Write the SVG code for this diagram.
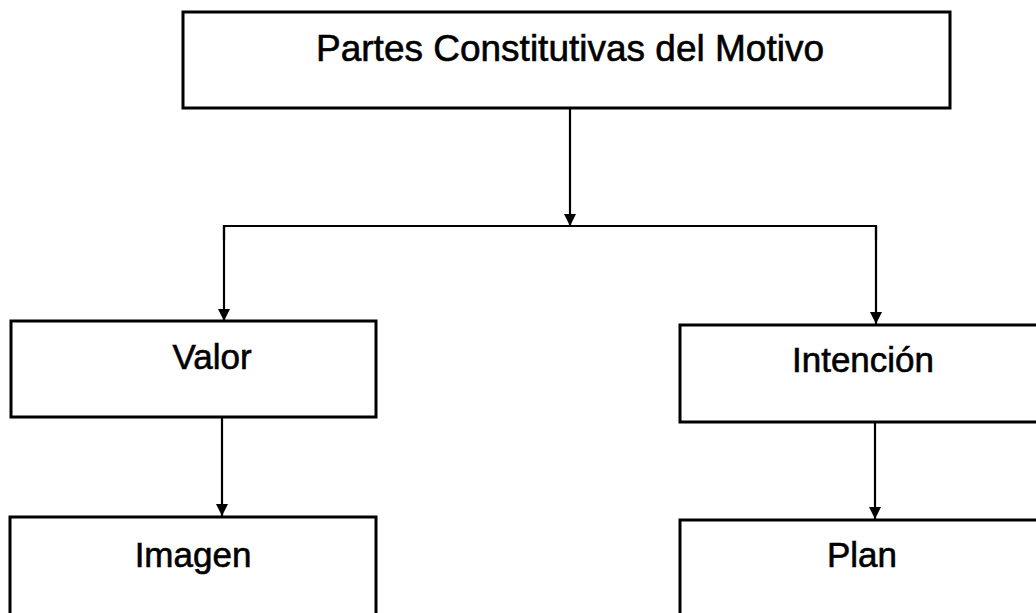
<svg xmlns="http://www.w3.org/2000/svg" width="1036" height="613" viewBox="0 0 1036 613">
<style>
.box{fill:#fff;stroke:#000;stroke-width:3}
.lbl{font-family:"Liberation Sans",Arial,sans-serif;font-size:35px;fill:#000;stroke:#000;stroke-width:0.6;text-anchor:middle}
.ln{fill:none;stroke:#000;stroke-width:2.2}
</style>
<defs>
<marker id="ah" viewBox="0 0 10 10" refX="10" refY="5" markerWidth="16" markerHeight="12" markerUnits="userSpaceOnUse" orient="auto">
<path d="M0,0 L10,5 L0,10 z" fill="#000"/>
</marker>
</defs>
<rect width="1036" height="613" fill="#fff"/>
<g id="connectors">
<line class="ln" x1="570" y1="108" x2="570" y2="226" marker-end="url(#ah)"/>
<polyline class="ln" points="224,240 224,226 876,226 876,240" />
<line class="ln" x1="224" y1="226" x2="224" y2="321" marker-end="url(#ah)"/>
<line class="ln" x1="876" y1="226" x2="876" y2="324" marker-end="url(#ah)"/>
<line class="ln" x1="222" y1="417" x2="222" y2="516" marker-end="url(#ah)"/>
<line class="ln" x1="875" y1="422" x2="875" y2="519" marker-end="url(#ah)"/>
</g>
<g id="node-top">
<rect class="box" x="183" y="12" width="767" height="96"/>
<text class="lbl" x="570" y="61" style="font-size:37px">Partes Constitutivas del Motivo</text>
</g>
<g id="node-valor">
<rect class="box" x="11" y="321" width="365" height="96"/>
<text class="lbl" x="212" y="369">Valor</text>
</g>
<g id="node-intencion">
<rect class="box" x="680" y="325" width="370" height="97"/>
<text class="lbl" x="863" y="372">Intención</text>
</g>
<g id="node-imagen">
<rect class="box" x="10" y="517" width="366" height="110"/>
<text class="lbl" x="193" y="567">Imagen</text>
</g>
<g id="node-plan">
<rect class="box" x="680" y="520" width="370" height="110"/>
<text class="lbl" x="862" y="567">Plan</text>
</g>
</svg>
